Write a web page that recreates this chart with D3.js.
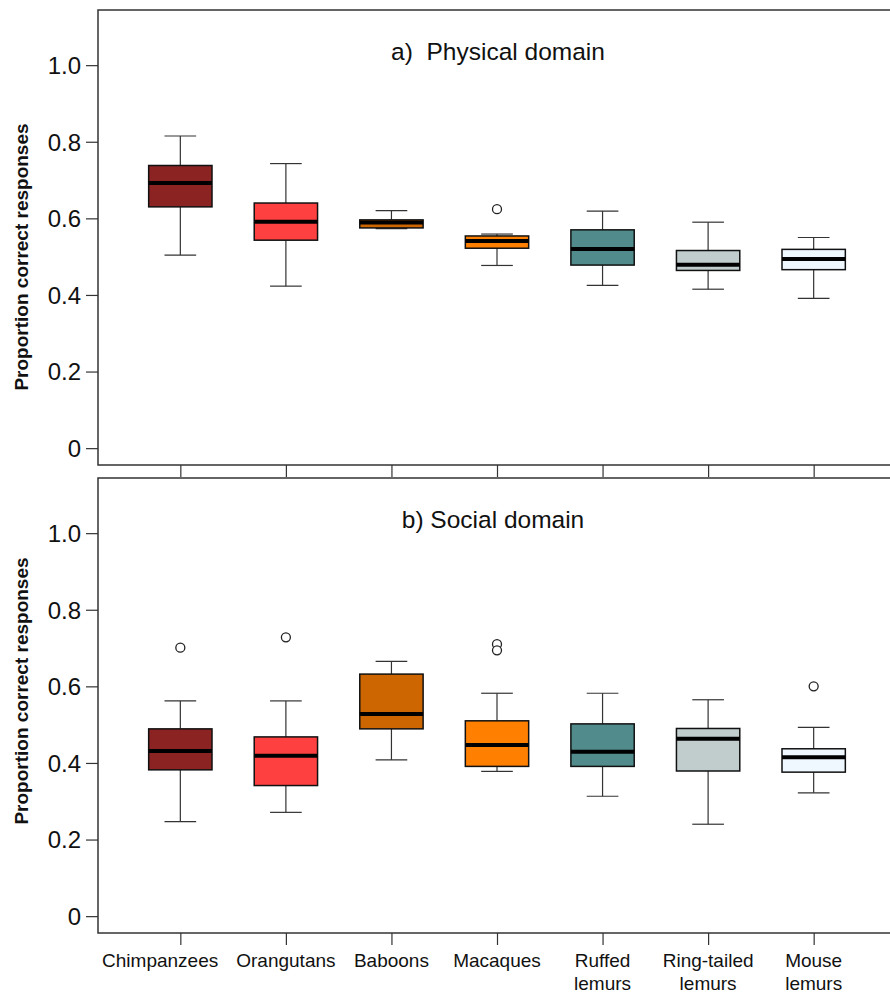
<html>
<head>
<meta charset="utf-8">
<script src="https://d3js.org/d3.v7.min.js"></script>
<style>
  body { margin: 0; background: #fff; }
  svg { font-family: "Liberation Sans", Arial, sans-serif; }
  .frame { fill: none; stroke: #333; stroke-width: 1.5; }
  .tick line { stroke: #333; stroke-width: 1.2; }
  .tick-label { font-size: 24px; fill: #111; }
  .ylab { font-size: 19px; font-weight: bold; fill: #111; }
  .title { font-size: 24.5px; fill: #111; white-space: pre; }
  .xlab { font-size: 19px; fill: #111; }
  .whisker { stroke: #333; stroke-width: 1.2; }
  .box { stroke: #111; stroke-width: 1.5; }
  .median { stroke: #000; stroke-width: 4; }
  .outlier { fill: #fff; stroke: #222; stroke-width: 1.3; }
</style>
</head>
<body>
<div id="chart"></div>
<script>
// categories
var species = ["Chimpanzees", "Orangutans", "Baboons", "Macaques", "Ruffed lemurs", "Ring-tailed lemurs", "Mouse lemurs"];
var speciesLines = [["Chimpanzees"], ["Orangutans"], ["Baboons"], ["Macaques"], ["Ruffed", "lemurs"], ["Ring-tailed", "lemurs"], ["Mouse", "lemurs"]];
var fills = ["#8B2323", "#FF4040", "#CD6600", "#FF7F00", "#528B8B", "#C1CDCD", "#F0F8FF"];

// a) physical domain
var physLow  = [0.504, 0.423, 0.573, 0.477, 0.425, 0.415, 0.391];
var physQ1   = [0.630, 0.543, 0.575, 0.522, 0.478, 0.464, 0.466];
var physMed  = [0.692, 0.591, 0.589, 0.541, 0.520, 0.479, 0.494];
var physQ3   = [0.738, 0.640, 0.596, 0.554, 0.570, 0.516, 0.519];
var physHigh = [0.815, 0.743, 0.620, 0.559, 0.619, 0.590, 0.550];
var physOut  = [[], [], [], [0.624], [], [], []];

// b) social domain
var socLow  = [0.247, 0.271, 0.408, 0.378, 0.313, 0.240, 0.322];
var socQ1   = [0.382, 0.341, 0.489, 0.391, 0.391, 0.379, 0.376];
var socMed  = [0.431, 0.419, 0.528, 0.447, 0.429, 0.463, 0.415];
var socQ3   = [0.489, 0.468, 0.632, 0.510, 0.502, 0.490, 0.437];
var socHigh = [0.562, 0.562, 0.665, 0.582, 0.582, 0.565, 0.493];
var socOut  = [[0.701], [0.728], [], [0.710, 0.694], [], [], [0.600]];

var yTicks = [0, 0.2, 0.4, 0.6, 0.8, 1.0];
var yTickLabels = ["0", "0.2", "0.4", "0.6", "0.8", "1.0"];

var width = 890, height = 995;
var left = 98, right = 896;

var svg = d3.select("#chart").append("svg")
    .attr("width", width)
    .attr("height", height);

// x like R's boxplot: positions 1..7, xlim 0.5..7.5 plus 4%
var x = d3.scaleLinear().domain([0.22, 7.78]).range([left, right]);

var panels = [
    { top: 10, bottom: 465, title: "a)  Physical domain", tx: 498, ty: 60, labY: 257,
      low: physLow, q1: physQ1, med: physMed, q3: physQ3, high: physHigh, out: physOut },
    { top: 478, bottom: 933, title: "b) Social domain", tx: 493, ty: 528, labY: 691,
      low: socLow, q1: socQ1, med: socMed, q3: socQ3, high: socHigh, out: socOut }
];

panels.forEach(function(p) {
    var y = d3.scaleLinear().domain([-0.044, 1.144]).range([p.bottom, p.top]);
    var g = svg.append("g");

    g.append("rect").attr("class", "frame")
        .attr("x", left).attr("y", p.top)
        .attr("width", right - left).attr("height", p.bottom - p.top);

    // y axis
    var yAxis = g.append("g").attr("transform", "translate(" + left + ",0)")
        .call(d3.axisLeft(y).tickValues(yTicks).tickSize(12).tickFormat(""));
    yAxis.select(".domain").remove();
    yAxis.selectAll(".tick").append("text")
        .attr("class", "tick-label")
        .attr("x", -17).attr("dy", "0.35em")
        .attr("text-anchor", "end")
        .attr("fill", "#111")
        .text(function(d, i) { return yTickLabels[i]; });

    // x axis ticks
    var xAxis = g.append("g").attr("transform", "translate(0," + p.bottom + ")")
        .call(d3.axisBottom(x).tickValues(d3.range(1, species.length + 1)).tickSize(12).tickFormat(""));
    xAxis.select(".domain").remove();

    g.append("text").attr("class", "ylab")
        .attr("transform", "translate(21," + p.labY + ") rotate(-90)")
        .attr("text-anchor", "middle")
        .attr("dy", "0.35em")
        .text("Proportion correct responses");

    g.append("text").attr("class", "title")
        .attr("x", p.tx).attr("y", p.ty)
        .attr("text-anchor", "middle")
        .text(p.title);

    var idx = d3.range(species.length);
    var bw = 0.3, cap = 0.15;

    var box = g.selectAll(".bx").data(idx).enter().append("g").attr("class", "bx");

    box.append("line").attr("class", "whisker")
        .attr("x1", i => x(i + 1)).attr("x2", i => x(i + 1))
        .attr("y1", i => y(p.q3[i])).attr("y2", i => y(p.high[i]));
    box.append("line").attr("class", "whisker")
        .attr("x1", i => x(i + 1)).attr("x2", i => x(i + 1))
        .attr("y1", i => y(p.q1[i])).attr("y2", i => y(p.low[i]));
    box.append("line").attr("class", "whisker")
        .attr("x1", i => x(i + 1 - cap)).attr("x2", i => x(i + 1 + cap))
        .attr("y1", i => y(p.high[i])).attr("y2", i => y(p.high[i]));
    box.append("line").attr("class", "whisker")
        .attr("x1", i => x(i + 1 - cap)).attr("x2", i => x(i + 1 + cap))
        .attr("y1", i => y(p.low[i])).attr("y2", i => y(p.low[i]));

    box.append("rect").attr("class", "box")
        .attr("x", i => x(i + 1 - bw))
        .attr("width", i => x(i + 1 + bw) - x(i + 1 - bw))
        .attr("y", i => y(p.q3[i]))
        .attr("height", i => y(p.q1[i]) - y(p.q3[i]))
        .attr("fill", i => fills[i]);

    box.append("line").attr("class", "median")
        .attr("x1", i => x(i + 1 - bw)).attr("x2", i => x(i + 1 + bw))
        .attr("y1", i => y(p.med[i])).attr("y2", i => y(p.med[i]));

    box.selectAll(".outlier").data(i => p.out[i].map(v => ({ i: i, v: v })))
        .enter().append("circle").attr("class", "outlier")
        .attr("cx", d => x(d.i + 1)).attr("cy", d => y(d.v)).attr("r", 4.5);
});

// species labels under the lower panel; a label that would run into
// its right neighbour is pushed left
var lab = svg.append("g").selectAll("text").data(speciesLines).enter().append("text")
    .attr("class", "xlab")
    .attr("text-anchor", "middle")
    .attr("y", 967);
lab.selectAll("tspan").data(d => d).enter().append("tspan")
    .attr("dy", (d, j) => j === 0 ? 0 : 23)
    .text(d => d);
var widths = [];
lab.each(function() {
    widths.push(d3.max(d3.select(this).selectAll("tspan").nodes(), n => n.getComputedTextLength()));
});
lab.each(function(d, i) {
    var cx = x(i + 1);
    if (i < widths.length - 1) {
        var nextLeft = x(i + 2) - widths[i + 1] / 2;
        cx = Math.min(cx, nextLeft - 18 - widths[i] / 2);
    }
    d3.select(this).attr("x", cx).selectAll("tspan").attr("x", cx);
});
</script>
</body>
</html>
